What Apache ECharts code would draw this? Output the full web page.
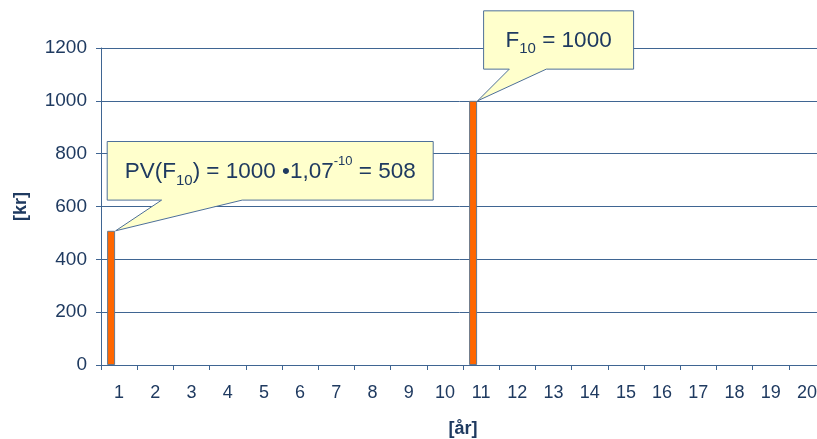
<!DOCTYPE html>
<html>
<head>
<meta charset="utf-8">
<script src="https://cdn.jsdelivr.net/npm/echarts@6/dist/echarts.min.js"></script>
<style>
  html, body { margin: 0; padding: 0; background: #ffffff; }
  #chart { width: 817px; height: 439px; }
</style>
</head>
<body>
<div id="chart"></div>
<script>
// Years on the horizontal axis
const years = ['1', '2', '3', '4', '5', '6', '7', '8', '9', '10',
               '11', '12', '13', '14', '15', '16', '17', '18', '19', '20'];

// Cash flow per year [kr]: present value today and the future amount
const cashFlow = [508, null, null, null, null, null, null, null, null, null,
                  1000, null, null, null, null, null, null, null, null, null];

// Second (empty) column of the cluster, keeps the bars on the left of each year
const emptyColumn = [null, null, null, null, null, null, null, null, null, null,
                     null, null, null, null, null, null, null, null, null, null];

// Value axis range
const yMin = 0;
const yMax = 1200;
const yStep = 200;

// Callout notes: which year they point at and their text
const noteYearIndex = [0, 10];
const noteTexts = [
  '{n|PV(F}{sub|10}{n|) = 1000 •1,07}{sup|-10}{n| = 508}',
  '{n|F}{sub|10}{n| = 1000}'
];

const lineColor = '#3F6592';
const textColor = '#1F3A60';
const font = '"Liberation Sans", Arial, sans-serif';

const BAR_W = 8;
const BAR_GAP = '100%';

const chart = echarts.init(document.getElementById('chart'), null, { renderer: 'canvas' });

const option = {
  animation: false,
  backgroundColor: '#ffffff',
  textStyle: { fontFamily: font },
  grid: {
    left: 101, top: 48, width: 724, height: 317,
    containLabel: false, outerBoundsMode: 'none'
  },
  xAxis: {
    type: 'category',
    data: years,
    boundaryGap: true,
    name: '[år]',
    nameLocation: 'middle',
    nameGap: 55,
    nameTextStyle: { color: textColor, fontSize: 18, fontWeight: 'bold', fontFamily: font },
    axisLine: { show: true, lineStyle: { color: lineColor, width: 1 } },
    axisTick: { show: true, length: 5, inside: false, interval: 0, lineStyle: { color: lineColor } },
    axisLabel: { color: textColor, fontSize: 18, margin: 19, interval: 0, fontFamily: font },
    splitLine: { show: false }
  },
  yAxis: {
    type: 'value',
    min: yMin, max: yMax, interval: yStep,
    name: '[kr]',
    nameLocation: 'middle',
    nameRotate: 90,
    nameGap: 71,
    nameTextStyle: { color: textColor, fontSize: 18, fontWeight: 'bold', fontFamily: font },
    axisLine: { show: true, lineStyle: { color: lineColor, width: 1 } },
    axisTick: { show: true, length: 5, inside: false, lineStyle: { color: lineColor } },
    axisLabel: {
      color: textColor, fontSize: 19, margin: 14, fontFamily: font,
      formatter: (v) => String(v)
    },
    splitLine: { show: true, lineStyle: { color: lineColor, width: 1 } }
  },
  series: [
    {
      name: 'Kontantstrøm',
      type: 'bar',
      data: cashFlow,
      barWidth: BAR_W,
      barGap: BAR_GAP,
      itemStyle: { color: '#FF6600', borderColor: '#66788C', borderWidth: 1 },
      z: 3
    },
    {
      name: 'tom',
      type: 'bar',
      data: emptyColumn,
      barWidth: BAR_W,
      barGap: BAR_GAP
    }
  ]
};

chart.setOption(option);

// Callout shapes (box + pointer), anchored at the top-right corner of each bar
const boxes = [
  { left: -8.4, right: 317.6, top: -89.3, bottom: -30.7, tailA: 46, tailB: 126.6 },
  { left: 6, right: 156, top: -90, bottom: -31.7, tailA: 31.7, tailB: 68.7 }
];

const richStyles = {
  n:   { fontSize: 22.5, lineHeight: 30, color: textColor, fontFamily: font },
  sub: { fontSize: 15, lineHeight: 14, verticalAlign: 'bottom', color: textColor, fontFamily: font },
  sup: { fontSize: 13, lineHeight: 33, verticalAlign: 'top', color: textColor, fontFamily: font }
};

const graphics = [];
noteYearIndex.forEach((idx, i) => {
  const center = chart.convertToPixel({ xAxisIndex: 0, yAxisIndex: 0 }, [idx, cashFlow[idx]]);
  // first column of the two-bar cluster sits (barWidth + gap) / 2 left of the category centre
  const offset = -(BAR_W + BAR_W * parseFloat(BAR_GAP) / 100) / 2;
  const tx = center[0] + offset + BAR_W / 2 + 0.5;
  const ty = center[1];
  const b = boxes[i];
  const L = tx + b.left, R = tx + b.right, T = ty + b.top, B = ty + b.bottom;
  graphics.push({
    type: 'polygon',
    z: 100,
    shape: {
      points: [[L, T], [R, T], [R, B], [tx + b.tailB, B], [tx, ty], [tx + b.tailA, B], [L, B]]
    },
    style: { fill: '#FFFFCC', stroke: '#4E7099', lineWidth: 1 }
  });
  graphics.push({
    type: 'text',
    z: 101,
    x: (L + R) / 2,
    y: (T + B) / 2 + 1,
    style: {
      text: noteTexts[i],
      rich: richStyles,
      align: 'center',
      verticalAlign: 'middle',
      fill: textColor,
      font: '22.5px ' + font
    }
  });
});

chart.setOption({ graphic: graphics });
</script>
</body>
</html>
